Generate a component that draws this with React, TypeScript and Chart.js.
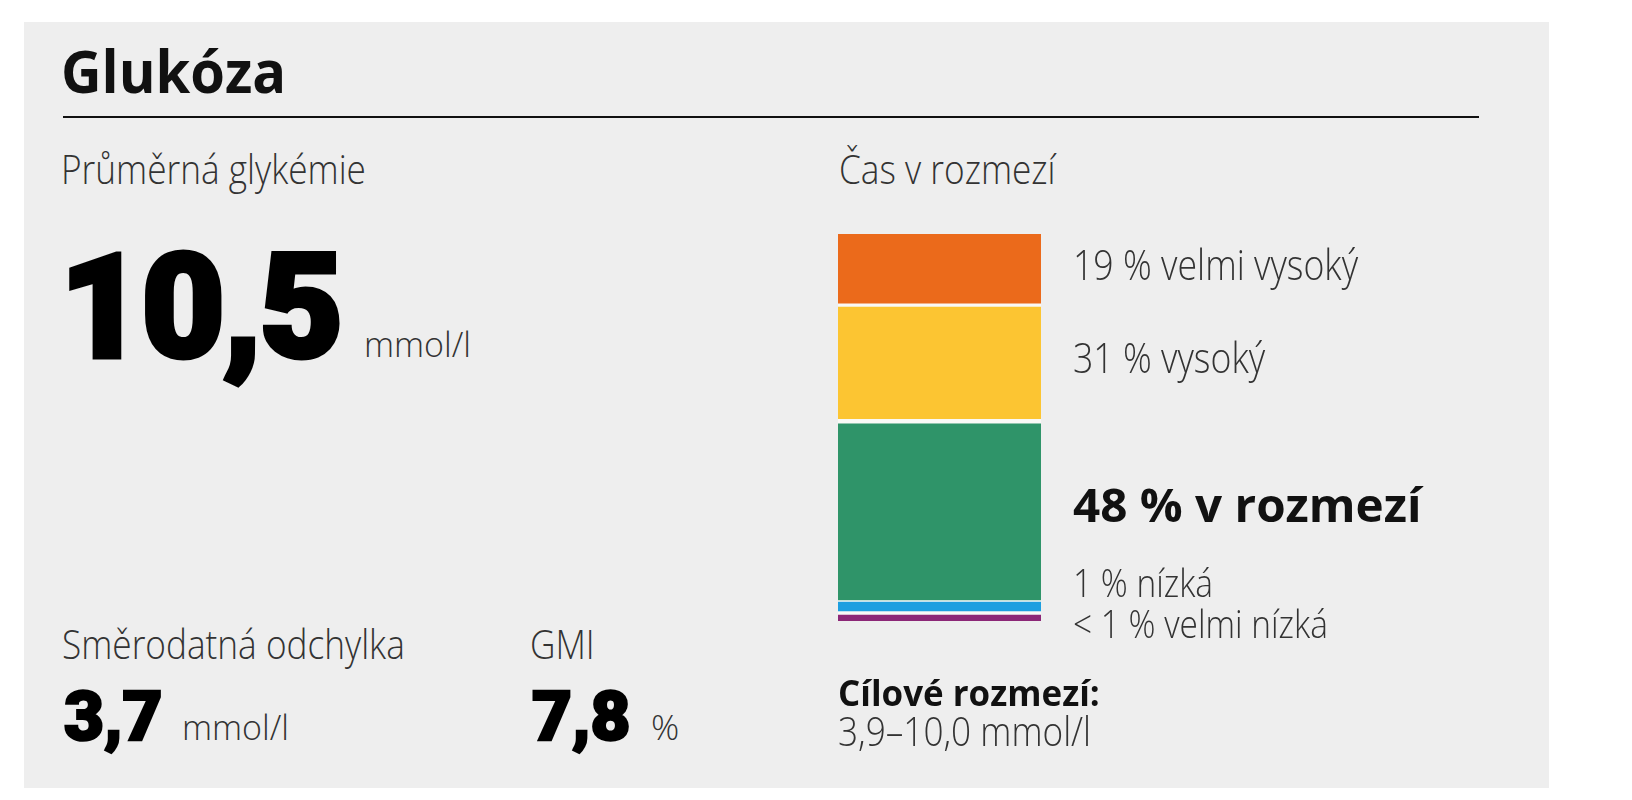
import { useEffect, useRef } from "react"
import { Chart, registerables } from "chart.js"

Chart.register(...registerables)

// Time in range, listed bottom to top of the stacked bar
const rangeNames = ["velmi nízká", "nízká", "v rozmezí", "vysoký", "velmi vysoký"]
const rangeValues = [0.5, 1, 48, 31, 19]
const rangeLabels = ["< 1 %", "1 %", "48 %", "31 %", "19 %"]

// Summary figures
const avgGlucose = "10,5"
const sdValue = "3,7"
const gmiValue = "7,8"
const targetRange = "3,9–10,0"

// styles for the bar segments (same order as above)
const rangeColors = ["#8c2777", "#1d9fe0", "#2f9469", "#fcc532", "#eb6a1b"]
const rangeBorders = [
  { top: 2, bottom: 0, left: 0, right: 0 },
  { top: 1, bottom: 2, left: 0, right: 0 },
  { top: 2.5, bottom: 1, left: 0, right: 0 },
  { top: 2, bottom: 2.5, left: 0, right: 0 },
  { top: 0, bottom: 2, left: 0, right: 0 },
]
const minSlot = [8, 12, 0, 0, 0]
const labelDy = [21, -10, 11, 10, 10]
const labelBold = [false, false, true, false, false]
const labelSize = [38, 38, 46, 43, 43]
const labelScale = [0.88, 0.88, 1.035, 0.83, 0.83]

const GAP = "#f9f9f6"
const LIGHT = "'Open Sans', 'Noto Sans', sans-serif"
const HEAVY = "Roboto, 'Open Sans', sans-serif"

// give tiny segments a visible height, squeeze the rest to keep the bar's total height
const minSegmentPlugin = {
  id: "minSegment",
  afterDatasetsUpdate(chart: any) {
    const metas = chart.getSortedVisibleDatasetMetas()
    const bars = metas.map((m: any) => m.data[0])
    if (!bars.length) return
    const bottom = Math.max(...bars.map((b: any) => b.base))
    const top = Math.min(...bars.map((b: any) => b.y))
    const raw = bars.map((b: any) => Math.abs(b.base - b.y))
    const fixed = raw.map((h: number, i: number) => (h < minSlot[metas[i].index] ? minSlot[metas[i].index] : 0))
    const fixedSum = fixed.reduce((s: number, v: number) => s + v, 0)
    const freeRaw = raw.reduce((s: number, h: number, i: number) => s + (fixed[i] ? 0 : h), 0)
    const k = (bottom - top - fixedSum) / freeRaw
    let y = bottom
    bars.forEach((b: any, i: number) => {
      const h = fixed[i] || raw[i] * k
      b.base = y
      b.y = y - h
      b.height = h
      y -= h
    })
  },
}

const labelPlugin = {
  id: "rangeLabels",
  afterDatasetsDraw(chart: any) {
    const ctx = chart.ctx
    chart.getSortedVisibleDatasetMetas().forEach((meta: any) => {
      const i = meta.index
      const bar = meta.data[0]
      const cy = (bar.y + bar.base) / 2
      const x = bar.x + bar.width / 2 + 32
      ctx.save()
      ctx.translate(x, cy + labelDy[i])
      ctx.scale(labelScale[i], 1)
      ctx.textBaseline = "alphabetic"
      ctx.textAlign = "left"
      ctx.font = `${labelBold[i] ? 700 : 300} ${labelSize[i]}px ${LIGHT}`
      ctx.fillStyle = labelBold[i] ? "#111" : "#333"
      ctx.fillText(`${rangeLabels[i]} ${rangeNames[i]}`, 0, 0)
      ctx.restore()
    })
  },
}

function TimeInRangeChart() {
  const chartRef = useRef<HTMLCanvasElement>(null)
  const chartInstance = useRef<Chart | null>(null)

  useEffect(() => {
    if (!chartRef.current) return
    if (chartInstance.current) chartInstance.current.destroy()
    const ctx = chartRef.current.getContext("2d")
    if (!ctx) return

    const total = rangeValues.reduce((s, v) => s + v, 0)

    chartInstance.current = new Chart(ctx, {
      type: "bar",
      data: {
        labels: ["Čas v rozmezí"],
        datasets: rangeNames.map((name, i) => ({
          label: name,
          data: [rangeValues[i]],
          backgroundColor: rangeColors[i],
          borderColor: GAP,
          borderWidth: rangeBorders[i],
          borderSkipped: false,
          barPercentage: 1,
          categoryPercentage: 1,
        })),
      },
      options: {
        responsive: true,
        maintainAspectRatio: false,
        animation: false,
        events: [],
        layout: { padding: { left: 18, right: 459, top: 14, bottom: 49 } },
        scales: {
          x: { stacked: true, display: false },
          y: { stacked: true, display: false, min: 0, max: total },
        },
        plugins: {
          legend: { display: false },
          tooltip: { enabled: false },
        },
      },
      plugins: [minSegmentPlugin, labelPlugin],
    })

    return () => {
      if (chartInstance.current) {
        chartInstance.current.destroy()
        chartInstance.current = null
      }
    }
  }, [])

  return <canvas ref={chartRef} />
}

// absolutely placed text, positioned by its baseline
function Txt(props: {
  x: number
  base: number
  size: number
  weight?: number
  heavy?: boolean
  color?: string
  sx?: number
  stroke?: number
  spacing?: number
  children: any
}) {
  const { x, base, size, weight = 300, heavy = false, color = "#333", sx = 1, stroke = 0, spacing = 0, children } = props
  const asc = heavy ? 0.842 : 0.888
  return (
    <div
      style={{
        position: "absolute",
        left: x,
        top: base - size * asc,
        fontSize: size,
        lineHeight: 1,
        fontFamily: heavy ? HEAVY : LIGHT,
        fontWeight: weight,
        color,
        whiteSpace: "nowrap",
        letterSpacing: spacing,
        WebkitTextStroke: stroke ? `${stroke}px ${color}` : undefined,
        transform: `scaleX(${sx})`,
        transformOrigin: "left center",
      }}
    >
      {children}
    </div>
  )
}

export default function App() {
  return (
    <div style={{ position: "absolute", left: 0, top: 0, width: 1632, height: 800, background: "#fff", overflow: "hidden" }}>
      <div style={{ position: "absolute", left: 24, top: 22, width: 1525, height: 766, background: "#eeeeee" }} />
      <Txt x={61} base={93} size={59} weight={700} color="#111" sx={0.95}>
        Glukóza
      </Txt>
      <div style={{ position: "absolute", left: 63, top: 116, width: 1416, height: 2, background: "#111" }} />

      <Txt x={61} base={185} size={40} sx={0.88}>
        Průměrná glykémie
      </Txt>
      <Txt x={60} base={357} size={144} weight={900} heavy color="#000" stroke={5} spacing={-2}>
        {avgGlucose}
      </Txt>
      <Txt x={364} base={357} size={34}>
        mmol/l
      </Txt>

      <Txt x={62} base={660} size={40} sx={0.88}>
        Směrodatná odchylka
      </Txt>
      <Txt x={64} base={740} size={69} weight={900} heavy color="#000" stroke={2.5}>
        {sdValue}
      </Txt>
      <Txt x={182} base={740} size={34}>
        mmol/l
      </Txt>

      <Txt x={530} base={660} size={40} sx={0.88}>
        GMI
      </Txt>
      <Txt x={532} base={740} size={69} weight={900} heavy color="#000" stroke={2.5}>
        {gmiValue}
      </Txt>
      <Txt x={651} base={740} size={35}>
        %
      </Txt>

      <Txt x={839} base={185} size={40} sx={0.88}>
        Čas v rozmezí
      </Txt>
      <div style={{ position: "absolute", left: 820, top: 220, width: 680, height: 450 }}>
        <TimeInRangeChart />
      </div>
      <Txt x={838} base={707} size={36} weight={700} color="#111" sx={0.97}>
        Cílové rozmezí:
      </Txt>
      <Txt x={838} base={747} size={40} sx={0.88}>
        {targetRange} mmol/l
      </Txt>
    </div>
  )
}
